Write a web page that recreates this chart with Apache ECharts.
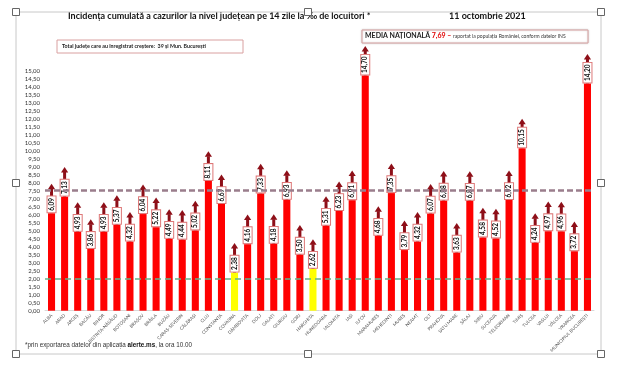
<!DOCTYPE html>
<html><head><meta charset="utf-8">
<script src="https://cdn.jsdelivr.net/npm/echarts@6/dist/echarts.min.js"></script>
<style>html,body{margin:0;padding:0;background:#fff}#c{width:620px;height:368px}</style>
</head><body><div id="c"></div>
<script>
const categories = ['ALBA','ARAD','ARGEȘ','BACĂU','BIHOR','BISTRIȚA-NĂSĂUD','BOTOȘANI','BRAȘOV','BRĂILA','BUZĂU','CARAȘ-SEVERIN','CĂLĂRAȘI','CLUJ','CONSTANȚA','COVASNA','DÂMBOVIȚA','DOLJ','GALAȚI','GIURGIU','GORJ','HARGHITA','HUNEDOARA','IALOMIȚA','IAȘI','ILFOV','MARAMUREȘ','MEHEDINȚI','MUREȘ','NEAMȚ','OLT','PRAHOVA','SATU MARE','SĂLAJ','SIBIU','SUCEAVA','TELEORMAN','TIMIȘ','TULCEA','VASLUI','VÂLCEA','VRANCEA','MUNICIPIUL BUCUREȘTI'];
const values = [6.09,7.13,4.93,3.86,4.93,5.37,4.32,6.04,5.22,4.49,4.44,5.02,8.11,6.67,2.38,4.16,7.33,4.18,6.93,3.50,2.62,5.31,6.23,6.91,14.70,4.68,7.35,3.79,4.32,6.07,6.88,3.63,6.87,4.58,4.52,6.92,10.15,4.24,4.97,4.96,3.72,14.20];
const yellowCounties = ['COVASNA','HARGHITA'];
const nationalAverage = 7.55;
const greenThreshold = 2.0;
const arrowLength = 1.85;
const titleText = 'Incidența cumulată a cazurilor la nivel județean pe 14 zile la ‰ de locuitori *';
const dateText = '11 octombrie 2021';
const totalText = 'Total județe care au înregistrat creștere:  39 și Mun. București';
const footText = '*prin exportarea datelor din aplicația ';

const fmt = v => v.toFixed(2).replace('.', ',');
const chart = echarts.init(document.getElementById('c'), null, {renderer:'canvas'});

const handles = [[16,12],[308,12],[601,12],[16,183],[601,183],[16,354],[308,354],[601,354]].map(p => ({
  type:'rect', shape:{x:p[0]-3.5,y:p[1]-3.5,width:7,height:7},
  style:{fill:'#fff',stroke:'#666',lineWidth:1}, z:100
}));

chart.setOption({
  animation:false,
  backgroundColor:'#fff',
  textStyle:{fontFamily:'Lato'},
  grid:{left:45,right:26,top:70.7,bottom:57.3},
  xAxis:{
    type:'category', data:categories,
    axisLine:{show:true,lineStyle:{color:'#d9d9d9'}},
    axisTick:{show:false},
    axisLabel:{interval:0,rotate:45,fontSize:4.5,color:'#555',margin:4}
  },
  yAxis:{
    type:'value', min:0, max:15, interval:0.5,
    axisLine:{show:false}, axisTick:{show:false}, splitLine:{show:false},
    axisLabel:{formatter:fmt,fontSize:6,color:'#333',margin:5}
  },
  series:[
    {
      type:'custom', z:2, clip:false,
      data: values.map((v,i)=>[i,v]),
      renderItem:(params, api) => {
        const base = api.coord([api.value(0), api.value(1)]);
        const top = api.coord([api.value(0), api.value(1)+arrowLength]);
        const c = '#8e0f18';
        return {type:'group', children:[
          {type:'rect', shape:{x:base[0]-1.5,y:top[1]+5,width:3,height:base[1]-top[1]-5}, style:{fill:c}},
          {type:'polygon', shape:{points:[[top[0],top[1]],[top[0]-3.6,top[1]+5.5],[top[0]+3.6,top[1]+5.5]]}, style:{fill:c}}
        ]};
      }
    },
    {
      type:'bar', z:3, barWidth:'54%',
      data: values.map((v,i)=>({value:v, itemStyle:{color: yellowCounties.includes(categories[i]) ? '#ffff00' : '#ff0000'}})),
      label:{
        show:true, position:'top', rotate:90, align:'left', verticalAlign:'middle', distance:1,
        formatter:p=>fmt(p.value), fontSize:6.5, fontWeight:'bold', color:'#111',
        backgroundColor:'#fff', borderColor:'#d77', borderWidth:1, padding:[1,1.5,0,1.5]
      },
      markLine:{
        silent:true, symbol:'none', label:{show:false},
        data:[
          {yAxis:nationalAverage, lineStyle:{color:'#9a7d8c',type:[6,3],width:2.5}},
          {yAxis:greenThreshold, lineStyle:{color:'#66b38a',type:[6,4],width:1.5}}
        ]
      }
    }
  ],
  graphic:[
    {type:'rect', shape:{x:16,y:12,width:585,height:342}, style:{fill:'none',stroke:'#c8c8c8',lineWidth:1}, z:90},
    ...handles,
    {type:'text', left:68, top:12, style:{text:titleText, font:'bold 9px Lato', fill:'#111'}},
    {type:'text', left:449, top:12, style:{text:dateText, font:'bold 9px Lato', fill:'#111'}},
    {type:'rect', shape:{x:57,y:40,width:186,height:13}, style:{fill:'#fff',stroke:'#d9a0a0',lineWidth:1}, z:10},
    {type:'text', left:62, top:43.5, z:11, style:{text:totalText, font:'bold 5.3px Lato', fill:'#222'}},
    {type:'rect', shape:{x:362,y:30,width:226,height:13}, style:{fill:'#fff',stroke:'#d9a0a0',lineWidth:1,shadowColor:'rgba(0,0,0,0.2)',shadowBlur:2}, z:10},
    {type:'text', left:365, top:32.5, z:11, style:{
      text:'{a|MEDIA NAȚIONALĂ }{b|7,69 – }{c|raportat la populația României, conform datelor INS}',
      rich:{a:{font:'bold 7px Lato',fill:'#222'},b:{font:'bold 7px Lato',fill:'#e00000'},c:{font:'5px Lato',fill:'#333'}}
    }},
    {type:'text', left:25, top:342, style:{
      text:'{a|'+footText+'}{b|alerte.ms}{a|, la ora 10.00}',
      rich:{a:{font:'6.3px "Liberation Sans"',fill:'#333'},b:{font:'bold 6.3px "Liberation Sans"',fill:'#111'}}
    }}
  ]
});
</script></body></html>
